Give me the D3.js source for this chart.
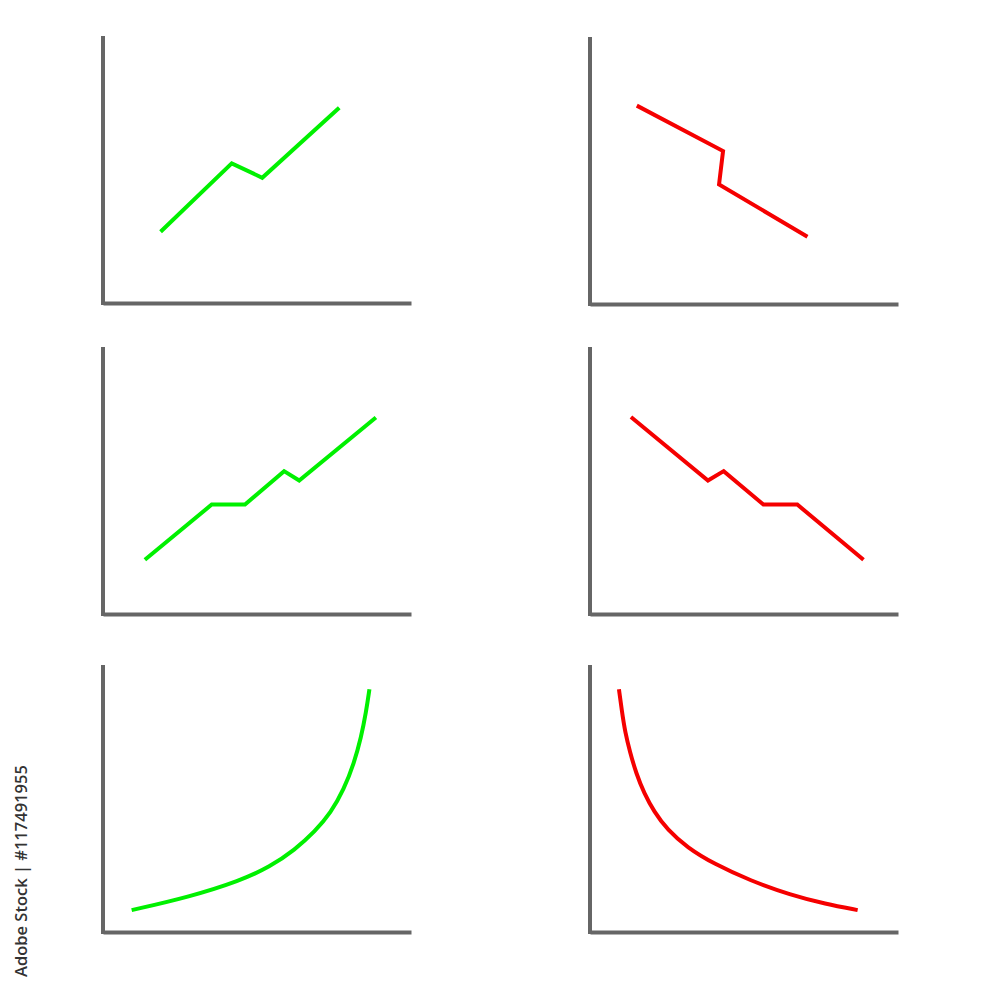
<!DOCTYPE html>
<html>
<head>
<meta charset="utf-8">
<script src="https://cdn.jsdelivr.net/npm/d3@7"></script>
<style>
  html, body { margin: 0; padding: 0; background: #fff; }
  svg { display: block; }
</style>
</head>
<body>
<div id="chart"></div>
<script>
// Values, 0-100 on both axes.
const upJagged = [[18.7, 26.7], [41.8, 52.3], [51.7, 46.9], [76.7, 73.1]];
const downJagged = [[15.2, 74.3], [43.2, 57.3], [41.9, 44.8], [70.6, 25.2]];
const upSteps = [[13.6, 20.3], [35.3, 41.0], [46.1, 41.0], [58.8, 53.5], [63.7, 50.0], [88.6, 73.6]];
const downSteps = [[13.3, 73.8], [38.3, 50.0], [43.4, 53.5], [56.3, 41.0], [67.3, 41.0], [88.8, 20.3]];
const upCurve = [[9.3, 8.2], [28.2, 13.2], [44.5, 19.2], [54.2, 24.4], [62.3, 30.8], [68.8, 37.6],
                 [74.0, 44.7], [78.2, 53.4], [81.5, 63.2], [83.8, 72.9], [85.4, 82.3], [86.5, 90.9]];
const downCurve = [[9.4, 90.9], [10.3, 83.1], [11.4, 74.8], [13.0, 67.3], [15.0, 59.4], [17.6, 51.9],
                   [20.8, 45.1], [25.1, 38.3], [31.6, 31.6], [40.1, 25.6], [52.1, 19.2], [65.1, 13.9],
                   [76.5, 10.5], [86.9, 8.2]];
const credit = "Adobe Stock | #117491955";

const width = 1000,
      height = 1000;

const panels = [
  {data: upJagged,   color: "#00f000", left: 103, top: 36,  curve: d3.curveLinear},
  {data: downJagged, color: "#f50000", left: 590, top: 37,  curve: d3.curveLinear},
  {data: upSteps,    color: "#00f000", left: 103, top: 347, curve: d3.curveLinear},
  {data: downSteps,  color: "#f50000", left: 590, top: 347, curve: d3.curveLinear},
  {data: upCurve,    color: "#00f000", left: 103, top: 665, curve: d3.curveBasis},
  {data: downCurve,  color: "#f50000", left: 590, top: 665, curve: d3.curveBasis}
];
const panelW = 308,
      panelH = 267;

const svg = d3.select("#chart").append("svg")
    .attr("width", width)
    .attr("height", height);

panels.forEach(p => {
  const x = d3.scaleLinear().domain([0, 100]).range([0, panelW]),
        y = d3.scaleLinear().domain([0, 100]).range([panelH, 0]);

  const g = svg.append("g").attr("transform", `translate(${p.left},${p.top})`);

  // plain axis lines, no ticks
  g.append("g")
      .attr("transform", `translate(0,${panelH})`)
      .call(d3.axisBottom(x).ticks(0).tickSize(0).tickSizeOuter(0))
      .call(a => a.select(".domain").attr("stroke", "#666").attr("stroke-width", 4));
  g.append("g")
      .call(d3.axisLeft(y).ticks(0).tickSize(0).tickSizeOuter(0))
      .call(a => a.select(".domain").attr("stroke", "#666").attr("stroke-width", 4)
        .attr("d", `M0,0V${panelH + 2}`));

  const line = d3.line()
      .x(d => x(d[0]))
      .y(d => y(d[1]))
      .curve(p.curve);

  g.append("path")
      .datum(p.data)
      .attr("fill", "none")
      .attr("stroke", p.color)
      .attr("stroke-width", 4)
      .attr("d", line);
});

svg.append("text")
    .attr("transform", "translate(27,977) rotate(-90)")
    .attr("font-family", "Open Sans")
    .attr("font-weight", 600)
    .attr("font-size", 16.5)
    .attr("fill", "#333")
    .text(credit);
</script>
</body>
</html>
